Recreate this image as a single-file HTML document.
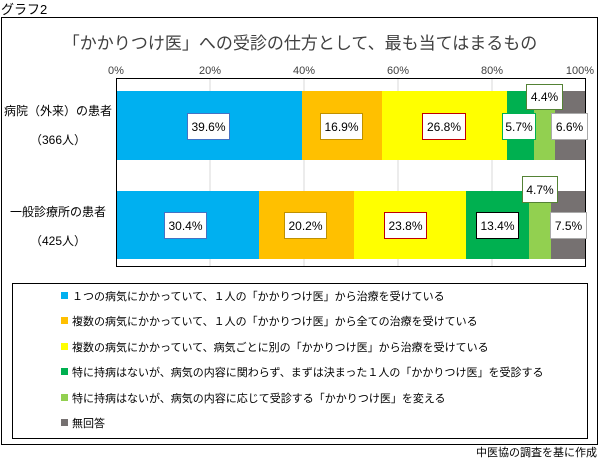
<!DOCTYPE html>
<html><head><meta charset="utf-8"><style>
body{margin:0;background:#fff;font-family:"Liberation Sans","Noto Sans CJK JP",sans-serif;}
</style></head><body>
<svg width="600" height="460" xmlns="http://www.w3.org/2000/svg" font-family="Liberation Sans, Noto Sans CJK JP, sans-serif">
<text x="1" y="14" font-size="13" fill="#000">グラフ2</text>
<rect x="1.5" y="17.5" width="596" height="427" fill="#fff" stroke="#000" stroke-width="1"/>
<text x="300" y="49" font-size="17" text-anchor="middle" fill="#404040">「かかりつけ医」への受診の仕方として、最も当てはまるもの</text>
<g font-size="11" fill="#404040" text-anchor="middle">
<text x="116" y="74">0%</text><text x="210" y="74">20%</text><text x="304" y="74">40%</text><text x="398" y="74">60%</text><text x="492" y="74">80%</text><text x="580" y="74">100%</text>
</g>
<g stroke="#d9d9d9" stroke-width="1">
<line x1="210" y1="78" x2="210" y2="266"/><line x1="304" y1="78" x2="304" y2="266"/><line x1="398" y1="78" x2="398" y2="266"/><line x1="492" y1="78" x2="492" y2="266"/>
</g>
<rect x="116.5" y="78.5" width="469" height="188" fill="none" stroke="#000"/>
<rect x="117" y="91" width="185" height="69" fill="#00b0f0"/>
<rect x="302" y="91" width="80" height="69" fill="#ffc000"/>
<rect x="382" y="91" width="125" height="69" fill="#ffff00"/>
<rect x="507" y="91" width="27" height="69" fill="#00b050"/>
<rect x="534" y="91" width="21" height="69" fill="#92d050"/>
<rect x="555" y="91" width="30" height="69" fill="#767171"/>
<rect x="117" y="191" width="142" height="68" fill="#00b0f0"/>
<rect x="259" y="191" width="95" height="68" fill="#ffc000"/>
<rect x="354" y="191" width="112" height="68" fill="#ffff00"/>
<rect x="466" y="191" width="63" height="68" fill="#00b050"/>
<rect x="529" y="191" width="22" height="68" fill="#92d050"/>
<rect x="551" y="191" width="34" height="68" fill="#767171"/>
<g font-size="12" fill="#000" text-anchor="middle">
<rect x="187.5" y="113.5" width="42" height="26" fill="#fff" stroke="#4472c4"/><text x="208.5" y="131">39.6%</text>
<rect x="320.5" y="113.5" width="42" height="26" fill="#fff" stroke="#bf9000"/><text x="341.5" y="131">16.9%</text>
<rect x="422.5" y="113.5" width="43" height="26" fill="#fff" stroke="#c00000"/><text x="444" y="131">26.8%</text>
<rect x="502.5" y="113.5" width="33" height="26" fill="#fff" stroke="#00b050"/><text x="519" y="131">5.7%</text>
<rect x="526.5" y="84.5" width="36" height="25" fill="#fff" stroke="#548235"/><text x="544.5" y="101">4.4%</text>
<rect x="551.5" y="113.5" width="36" height="26" fill="#fff" stroke="#aaaaaa"/><text x="569.5" y="131">6.6%</text>
<rect x="164.5" y="212.5" width="42" height="26" fill="#fff" stroke="#4472c4"/><text x="185.5" y="230">30.4%</text>
<rect x="284.5" y="212.5" width="42" height="26" fill="#fff" stroke="#bf9000"/><text x="305.5" y="230">20.2%</text>
<rect x="384.5" y="212.5" width="42" height="26" fill="#fff" stroke="#c00000"/><text x="405.5" y="230">23.8%</text>
<rect x="476.5" y="212.5" width="42" height="26" fill="#fff" stroke="#000"/><text x="497.5" y="230">13.4%</text>
<rect x="522.5" y="176.5" width="35" height="26" fill="#fff" stroke="#548235"/><text x="540" y="194">4.7%</text>
<rect x="550.5" y="212.5" width="36" height="26" fill="#fff" stroke="#aaaaaa"/><text x="568.5" y="230">7.5%</text>
</g>
<g font-size="12" fill="#000" text-anchor="middle">
<text x="58" y="115">病院（外来）の患者</text><text x="58" y="144">（366人）</text>
<text x="58" y="216">一般診療所の患者</text><text x="58" y="245">（425人）</text>
</g>
<rect x="12.5" y="283.5" width="575" height="155" fill="#fff" stroke="#000"/>
<g font-size="11" fill="#000">
<rect x="61" y="292" width="7" height="7" fill="#00b0f0"/><text x="72" y="300">１つの病気にかかっていて、１人の「かかりつけ医」から治療を受けている</text>
<rect x="61" y="317" width="7" height="7" fill="#ffc000"/><text x="72" y="325">複数の病気にかかっていて、１人の「かかりつけ医」から全ての治療を受けている</text>
<rect x="61" y="343" width="7" height="7" fill="#ffff00"/><text x="72" y="351">複数の病気にかかっていて、病気ごとに別の「かかりつけ医」から治療を受けている</text>
<rect x="61" y="368" width="7" height="7" fill="#00b050"/><text x="72" y="376">特に持病はないが、病気の内容に関わらず、まずは決まった１人の「かかりつけ医」を受診する</text>
<rect x="61" y="394" width="7" height="7" fill="#92d050"/><text x="72" y="402">特に持病はないが、病気の内容に応じて受診する「かかりつけ医」を変える</text>
<rect x="61" y="419" width="7" height="7" fill="#767171"/><text x="72" y="427">無回答</text>
</g>
<text x="597" y="456" font-size="11" text-anchor="end" fill="#000">中医協の調査を基に作成</text>
</svg>
</body></html>
